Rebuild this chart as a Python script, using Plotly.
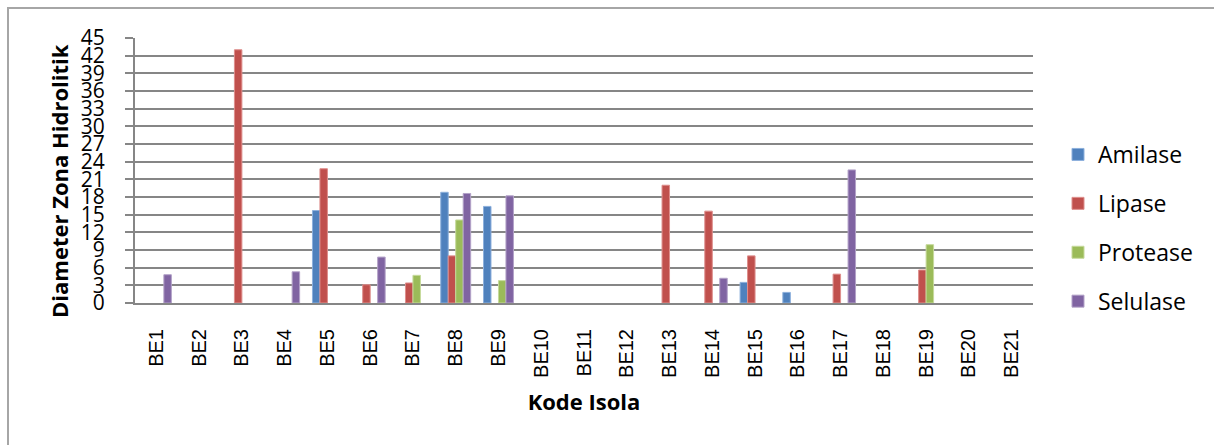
import plotly.graph_objects as go

# Isolate codes on the category axis
isolates = [f"BE{i}" for i in range(1, 22)]

# Hydrolytic zone diameter per enzyme (0 = no zone)
amilase = [0, 0, 0, 0, 15.7, 0, 0, 18.8, 16.4, 0, 0, 0, 0, 0, 3.5, 1.8, 0, 0, 0, 0, 0]
lipase = [0, 0, 43, 0, 22.8, 3.1, 3.4, 8.0, 0, 0, 0, 0, 20.0, 15.6, 8.0, 0, 4.9, 0, 5.6, 0, 0]
protease = [0, 0, 0, 0, 0, 0, 4.7, 14.1, 3.8, 0, 0, 0, 0, 0, 0, 0, 0, 0, 9.9, 0, 0]
selulase = [4.8, 0, 0, 5.3, 0, 7.8, 0, 18.6, 18.2, 0, 0, 0, 0, 4.2, 0, 0, 22.6, 0, 0, 0, 0]

y_ticks = list(range(0, 46, 3))

series = [
    ("Amilase", amilase, "#4F81BD", "#8DB0DC"),
    ("Lipase", lipase, "#C0504D", "#DE8E8C"),
    ("Protease", protease, "#9BBB59", "#C6DA9C"),
    ("Selulase", selulase, "#8064A2", "#B3A2C8"),
]

fig = go.Figure()
for name, vals, color, edge in series:
    # zero readings get no bar at all (avoids outlined slivers on the axis)
    fig.add_trace(go.Bar(
        x=isolates, y=[v if v else None for v in vals],
        name=name, legendgroup=name,
        marker=dict(color=color, line=dict(color=edge, width=1)),
    ))

W, H = 1214, 445
L, R, T, B = 135, 181, 38, 142
pw, ph = W - L - R, H - T - B

fig.update_layout(
    width=W, height=H,
    margin=dict(l=L, r=R, t=T, b=B),
    paper_bgcolor="white", plot_bgcolor="white",
    barmode="group", bargap=0.3, bargroupgap=0,
    font=dict(family="Open Sans", color="black"),
    showlegend=True,
    legend=dict(
        xref="container", yref="container",
        x=1058 / W, y=1 - 228 / H, xanchor="left", yanchor="middle",
        font=dict(family="Open Sans", size=23, color="black"),
        tracegroupgap=16, bgcolor="rgba(0,0,0,0)",
    ),
    xaxis=dict(
        type="category", categoryorder="array", categoryarray=isolates,
        tickangle=-90, ticks="", showgrid=False,
        showline=True, linecolor="#868686", linewidth=2,
        tickfont=dict(family="Liberation Sans", size=20, color="black"),
        ticklabelstandoff=16,
        title=dict(text="<b>Kode Isola</b>", standoff=18,
                   font=dict(family="Open Sans", size=22, color="black")),
    ),
    yaxis=dict(
        range=[0, 45], tickmode="array", tickvals=y_ticks,
        ticktext=[str(v) for v in y_ticks],
        ticks="outside", ticklen=8, tickcolor="#868686", tickwidth=2,
        showgrid=True, gridcolor="#868686", gridwidth=2,
        showline=True, linecolor="#868686", linewidth=2,
        zeroline=False,
        tickfont=dict(family="Open Sans", size=21, color="black"),
        ticklabelstandoff=16,
    ),
)

# Vertical value-axis title, placed beside the tick labels
fig.add_annotation(
    text="<b>Diameter Zona Hidrolitik</b>", textangle=-90,
    xref="paper", yref="paper",
    x=(59 - L) / pw, y=(H - B - 181) / ph,
    xanchor="center", yanchor="middle", showarrow=False,
    font=dict(family="Open Sans", size=22, color="black"),
)

# Outer chart frame
fig.add_shape(
    type="rect", xref="paper", yref="paper",
    x0=(8 - L) / pw, x1=(W + 4 - L) / pw,
    y0=(H - B - (H + 6)) / ph, y1=(H - B - 8) / ph,
    line=dict(color="#A6A6A6", width=2), fillcolor="rgba(0,0,0,0)",
    layer="below",
)

fig.write_html("out.html")
